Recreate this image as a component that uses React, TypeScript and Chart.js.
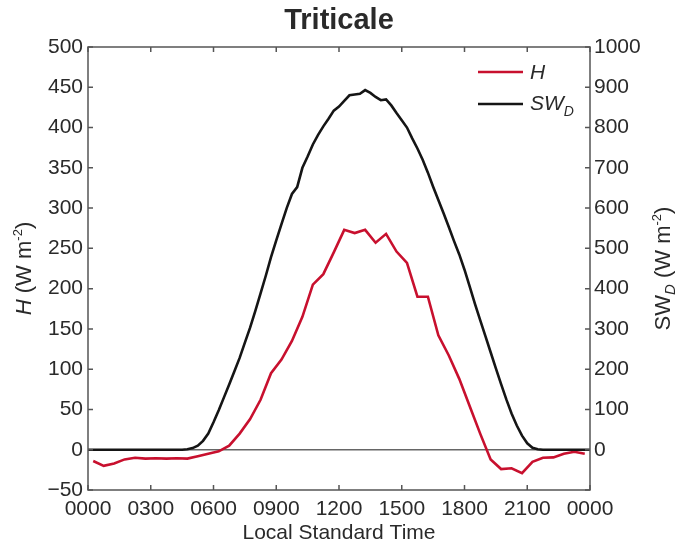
import React, { useEffect, useRef } from "react";
import { Chart, registerables } from "chart.js";

Chart.register(...registerables);

const TITLE = "Triticale";
const X_TITLE = "Local Standard Time";

const xTickValues = [0, 3, 6, 9, 12, 15, 18, 21, 24];
const xTickLabels = ["0000", "0300", "0600", "0900", "1200", "1500", "1800", "2100", "0000"];

const hTimes = [
  0.25, 0.75, 1.25, 1.75, 2.25, 2.75, 3.25, 3.75, 4.25, 4.75, 5.25, 5.75,
  6.25, 6.75, 7.25, 7.75, 8.25, 8.75, 9.25, 9.75, 10.25, 10.75, 11.25, 11.75,
  12.25, 12.75, 13.25, 13.75, 14.25, 14.75, 15.25, 15.75, 16.25, 16.75, 17.25, 17.75,
  18.25, 18.75, 19.25, 19.75, 20.25, 20.75, 21.25, 21.75, 22.25, 22.75, 23.25, 23.75,
];
const hValues = [
  -14, -20, -17, -12, -10, -11, -10.5, -11, -10.5, -11, -8, -5,
  -2, 5, 20, 38, 62, 95, 112, 135, 165, 205, 218, 245,
  273, 269, 273, 257, 268, 246, 232, 190, 190, 142, 117, 88,
  54, 20, -12, -24, -23, -29, -15, -10, -9.5, -5, -2.5, -5,
];

const swTimes = [
  0, 4.5, 4.75, 5, 5.25, 5.5, 5.75, 6, 6.25, 6.5, 6.75, 7, 7.25, 7.5, 7.75,
  8, 8.25, 8.5, 8.75, 9, 9.25, 9.5, 9.75, 10, 10.25, 10.5, 10.75,
  11, 11.25, 11.5, 11.75, 12, 12.25, 12.5, 12.75, 13, 13.25, 13.5, 13.75,
  14, 14.25, 14.5, 14.75, 15, 15.25, 15.5, 15.75, 16, 16.25, 16.5, 16.75,
  17, 17.25, 17.5, 17.75, 18, 18.25, 18.5, 18.75, 19, 19.25, 19.5, 19.75,
  20, 20.25, 20.5, 20.75, 21, 21.25, 21.5, 21.75, 24,
];
const swValues = [
  0, 0, 1, 4, 10, 22, 40, 68, 98, 130, 162, 195, 228, 266, 303,
  345, 388, 432, 478, 520, 560, 600, 635, 652, 700, 728, 758,
  782, 803, 822, 842, 852, 866, 880, 882, 884, 893, 886, 876,
  868, 870, 855, 836, 818, 800, 773, 748, 720, 688, 653, 620,
  587, 553, 518, 485, 447, 405, 362, 322, 282, 242, 202, 163,
  125, 90, 60, 35, 16, 5, 1, 0, 0,
];

const RED = "#c8102e";
const BLACK = "#151515";
const AXIS = "#555555";
const TEXT = "#2a2a2a";
const FONT = '"Liberation Sans", Arial, sans-serif';

type Part = { t: string; size: number; italic?: boolean; bold?: boolean; dy?: number };

function drawRich(ctx: CanvasRenderingContext2D, parts: Part[], x: number, y: number, align: "center" | "left", rot: number) {
  ctx.save();
  ctx.translate(x, y);
  ctx.rotate(rot);
  ctx.textBaseline = "middle";
  ctx.textAlign = "left";
  ctx.fillStyle = TEXT;
  let total = 0;
  const widths: number[] = [];
  for (const p of parts) {
    ctx.font = `${p.italic ? "italic " : ""}${p.bold ? "bold " : ""}${p.size}px ${FONT}`;
    const w = ctx.measureText(p.t).width;
    widths.push(w);
    total += w;
  }
  let cx = align === "center" ? -total / 2 : 0;
  parts.forEach((p, i) => {
    ctx.font = `${p.italic ? "italic " : ""}${p.bold ? "bold " : ""}${p.size}px ${FONT}`;
    ctx.fillText(p.t, cx, p.dy || 0);
    cx += widths[i];
  });
  ctx.restore();
}

const decorPlugin = {
  id: "decor",
  beforeDatasetsDraw(chart: any) {
    const { ctx, chartArea } = chart;
    const y0 = chart.scales.y.getPixelForValue(0);
    ctx.save();
    ctx.strokeStyle = "#666666";
    ctx.lineWidth = 1.5;
    ctx.beginPath();
    ctx.moveTo(chartArea.left, y0);
    ctx.lineTo(chartArea.right, y0);
    ctx.stroke();
    ctx.restore();
  },
  afterDatasetsDraw(chart: any) {
    const { ctx, chartArea } = chart;
    const { left, right, top, bottom } = chartArea;
    const xs = chart.scales.x;
    const ys = chart.scales.y;
    const y2 = chart.scales.y2;
    const tl = 5;
    ctx.save();
    ctx.strokeStyle = AXIS;
    ctx.lineWidth = 1.5;
    ctx.strokeRect(left, top, right - left, bottom - top);
    ctx.beginPath();
    xTickValues.forEach((v) => {
      const px = xs.getPixelForValue(v);
      ctx.moveTo(px, bottom);
      ctx.lineTo(px, bottom - tl);
      ctx.moveTo(px, top);
      ctx.lineTo(px, top + tl);
    });
    ys.ticks.forEach((t: any) => {
      const py = ys.getPixelForValue(t.value);
      ctx.moveTo(left, py);
      ctx.lineTo(left + tl, py);
    });
    y2.ticks.forEach((t: any) => {
      const py = y2.getPixelForValue(t.value);
      ctx.moveTo(right, py);
      ctx.lineTo(right - tl, py);
    });
    ctx.stroke();
    ctx.restore();

    // title
    drawRich(ctx, [{ t: TITLE, size: 29, bold: true }], (left + right) / 2, 21, "center", 0);
    // x title
    drawRich(ctx, [{ t: X_TITLE, size: 21 }], (left + right) / 2, 533, "center", 0);
    // left y label
    drawRich(
      ctx,
      [
        { t: "H", size: 22, italic: true },
        { t: " (W m", size: 22 },
        { t: "-2", size: 13, dy: -7 },
        { t: ")", size: 22 },
      ],
      25,
      (top + bottom) / 2,
      "center",
      -Math.PI / 2
    );
    // right y label
    drawRich(
      ctx,
      [
        { t: "SW", size: 22 },
        { t: "D", size: 15, italic: true, dy: 7 },
        { t: " (W m", size: 22 },
        { t: "-2", size: 13, dy: -7 },
        { t: ")", size: 22 },
      ],
      664,
      (top + bottom) / 2,
      "center",
      -Math.PI / 2
    );
    // legend
    ctx.save();
    ctx.lineWidth = 2.5;
    ctx.strokeStyle = RED;
    ctx.beginPath();
    ctx.moveTo(478, 72);
    ctx.lineTo(523, 72);
    ctx.stroke();
    ctx.strokeStyle = BLACK;
    ctx.beginPath();
    ctx.moveTo(478, 104);
    ctx.lineTo(523, 104);
    ctx.stroke();
    ctx.restore();
    drawRich(ctx, [{ t: "H", size: 21, italic: true }], 530, 73, "left", 0);
    drawRich(
      ctx,
      [
        { t: "SW", size: 21, italic: true },
        { t: "D", size: 14, italic: true, dy: 8 },
      ],
      530,
      104,
      "left",
      0
    );
  },
};

export default function App() {
  const ref = useRef<HTMLCanvasElement | null>(null);
  useEffect(() => {
    document.body.style.margin = "0";
    const canvas = ref.current!;
    const chart = new Chart(canvas, {
      type: "line",
      data: {
        datasets: [
          {
            label: "SW_D",
            data: swTimes.map((t, i) => ({ x: t, y: swValues[i] })),
            yAxisID: "y2",
            borderColor: BLACK,
            borderWidth: 2.6,
            pointRadius: 0,
            tension: 0,
            fill: false,
          },
          {
            label: "H",
            data: hTimes.map((t, i) => ({ x: t, y: hValues[i] })),
            yAxisID: "y",
            borderColor: RED,
            borderWidth: 2.6,
            pointRadius: 0,
            tension: 0,
            fill: false,
          },
        ],
      },
      plugins: [decorPlugin],
      options: {
        responsive: false,
        animation: false,
        devicePixelRatio: 1,
        layout: { padding: { top: 47, left: 0, right: 0, bottom: 0 } },
        plugins: { legend: { display: false }, title: { display: false }, tooltip: { enabled: false } },
        scales: {
          x: {
            type: "linear",
            min: 0,
            max: 24,
            afterBuildTicks: (s: any) => {
              s.ticks = xTickValues.map((v) => ({ value: v }));
            },
            afterFit: (s: any) => {
              s.height = 56;
            },
            grid: { display: false, drawTicks: false },
            border: { display: false },
            ticks: {
              autoSkip: false,
              maxRotation: 0,
              padding: 7,
              color: TEXT,
              font: { family: FONT, size: 21 },
              callback: (v: any, i: number) => xTickLabels[i],
            },
          },
          y: {
            type: "linear",
            position: "left",
            min: -50,
            max: 500,
            afterFit: (s: any) => {
              s.width = 88;
            },
            grid: { display: false, drawTicks: false },
            border: { display: false },
            ticks: {
              stepSize: 50,
              padding: 5,
              color: TEXT,
              font: { family: FONT, size: 21 },
              callback: (v: any) => (v < 0 ? "\u2212" + Math.abs(v) : String(v)),
            },
          },
          y2: {
            type: "linear",
            position: "right",
            min: -100,
            max: 1000,
            afterFit: (s: any) => {
              s.width = 93;
            },
            grid: { display: false, drawTicks: false },
            border: { display: false },
            ticks: {
              stepSize: 100,
              padding: 4,
              color: TEXT,
              font: { family: FONT, size: 21 },
              callback: (v: any) => (v < 0 ? "" : String(v)),
            },
          },
        },
      },
    } as any);
    return () => chart.destroy();
  }, []);
  return (
    <div style={{ position: "absolute", left: 0, top: 0, width: 683, height: 546, background: "#fff" }}>
      <canvas ref={ref} width={683} height={546} style={{ width: 683, height: 546, display: "block" }} />
    </div>
  );
}
